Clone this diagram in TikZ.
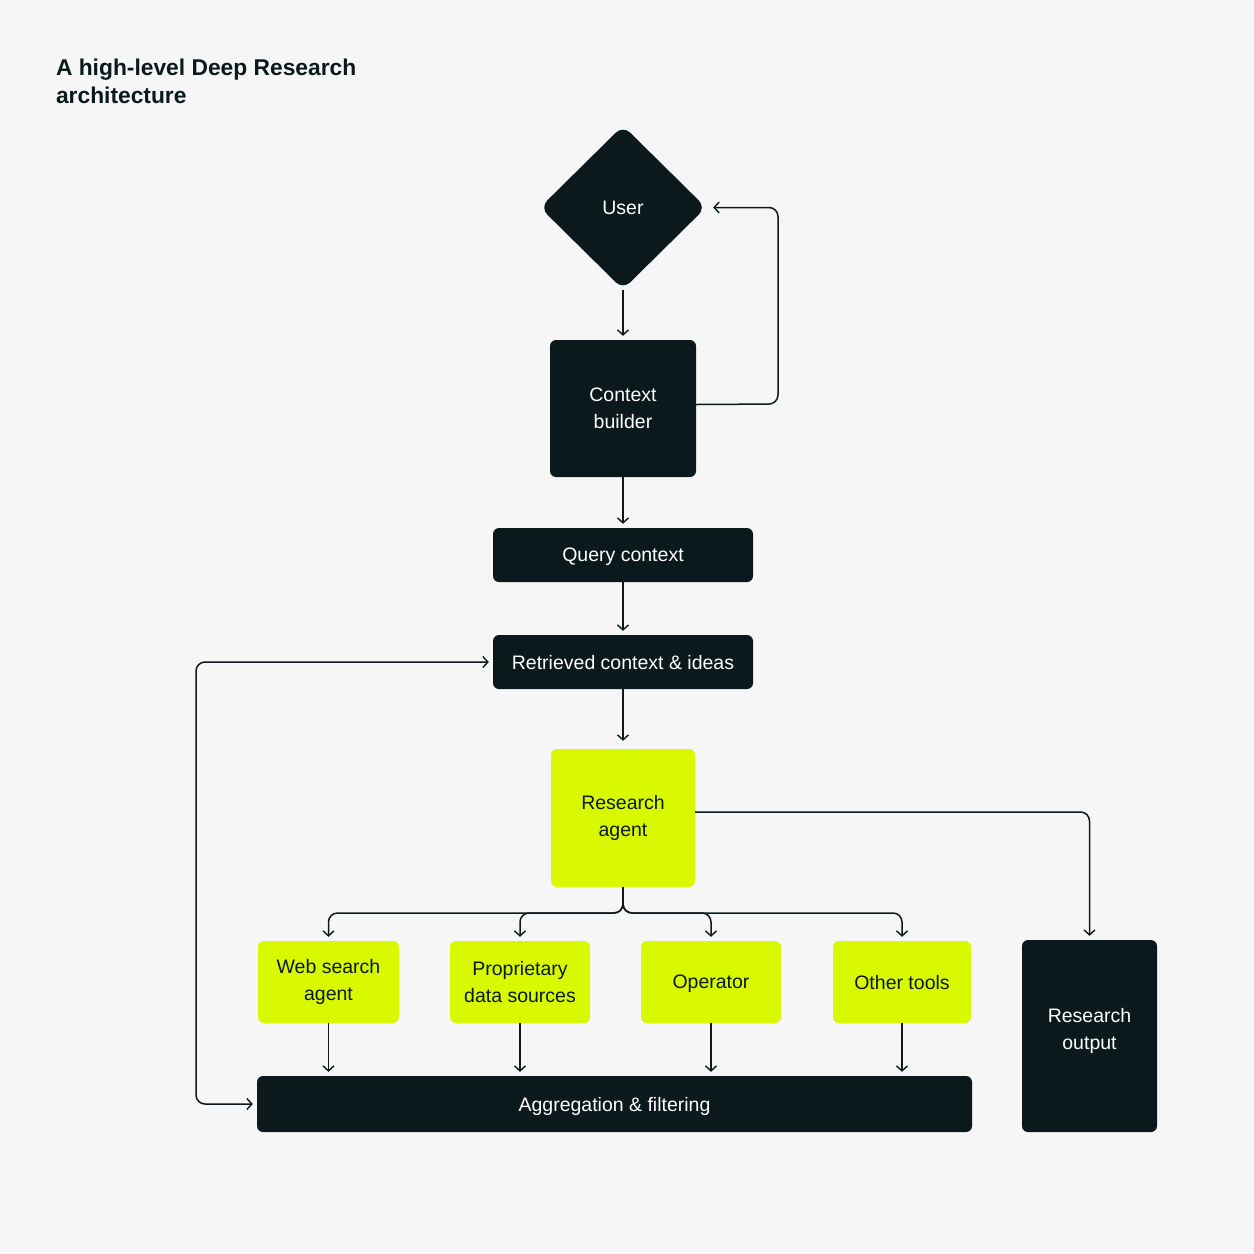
\documentclass[tikz,border=0pt]{standalone}
\usepackage{fontspec}
\setmainfont{Liberation Sans}
\usetikzlibrary{arrows.meta,shapes.geometric}
\definecolor{bg}{HTML}{F6F6F6}
\definecolor{ink}{HTML}{0B191D}
\definecolor{lime}{HTML}{D8F900}
\begin{document}
\begin{tikzpicture}[x=1pt,y=-1pt,
  box/.style={rounded corners=6pt,inner sep=0pt,align=center,font=\fontsize{19.5}{26.5}\selectfont},
  darkbox/.style={box,fill=ink,text=white},
  limebox/.style={box,fill=lime,text=ink},
  oneline/.style={text depth=0pt},
  tip/.tip={Straight Barb[length=5pt,width=11pt,line width=1.4pt]},
  conn/.style={draw=ink,line width=1.5pt,-tip,rounded corners=9pt,shorten >=4pt}
]
\fill[bg] (0,0) rectangle (1254,1254);

\node[anchor=north west,align=left,text=ink,font=\fontsize{22.8}{28}\selectfont\bfseries] (title) at (52.5,55.5) {A high-level Deep Research\\architecture};

\node[diamond,fill=ink,text=white,inner sep=0pt,minimum width=166pt,minimum height=164pt,rounded corners=10pt,font=\fontsize{19.5}{26.5}\selectfont] (user) at (623,207.5) {User};
\node[darkbox,minimum width=146pt,minimum height=137pt] (ctx) at (623,408.5) {Context\\builder};
\node[darkbox,oneline,minimum width=260pt,minimum height=54pt] (query) at (623,555) {Query context};
\node[darkbox,oneline,minimum width=260pt,minimum height=54pt] (ret) at (623,662) {Retrieved context \& ideas};
\node[limebox,minimum width=144pt,minimum height=138pt] (agent) at (623,818) {Research\\agent};
\node[limebox,minimum width=141pt,minimum height=82pt] (web) at (328.5,982) {Web search\\agent};
\node[limebox,minimum width=140pt,minimum height=82pt] (prop) at (520,982) {Proprietary\\data sources};
\node[limebox,oneline,minimum width=140pt,minimum height=82pt] (oper) at (711,982) {Operator};
\node[limebox,oneline,minimum width=138pt,minimum height=82pt] (other) at (902,982) {Other tools};
\node[darkbox,minimum width=135pt,minimum height=192pt] (out) at (1089.5,1036) {};
\node[white,align=center,font=\fontsize{19.5}{27.5}\selectfont] (outtext) at ([yshift=5pt]out.center) {Research\\output};
\node[darkbox,oneline,minimum width=715pt,minimum height=56pt] (agg) at (614.5,1104) {Aggregation \& filtering};

\draw[conn] (user.south) -- (ctx.north);
\draw[conn,shorten >=7pt] ([yshift=4pt]ctx.east) -- (778,404) -- (778,207.5) -- (user.east);
\draw[conn] (ctx.south) -- (query.north);
\draw[conn] (query.south) -- (ret.north);
\draw[conn,shorten >=8pt] (ret.south) -- (agent.north);
\draw[conn] ([yshift=6pt]agent.east) -| (out.north);
\foreach \t in {web,prop,oper,other}{
  \draw[conn] (agent.south) -- (623,913) -| (\t.north);
  \draw[conn] (\t.south) -- (\t.south |- agg.north);
}
\draw[conn,tip-tip,shorten <=4pt] (ret.west) -- (196,662) -- (196,1104) -- (agg.west);
\end{tikzpicture}
\end{document}
